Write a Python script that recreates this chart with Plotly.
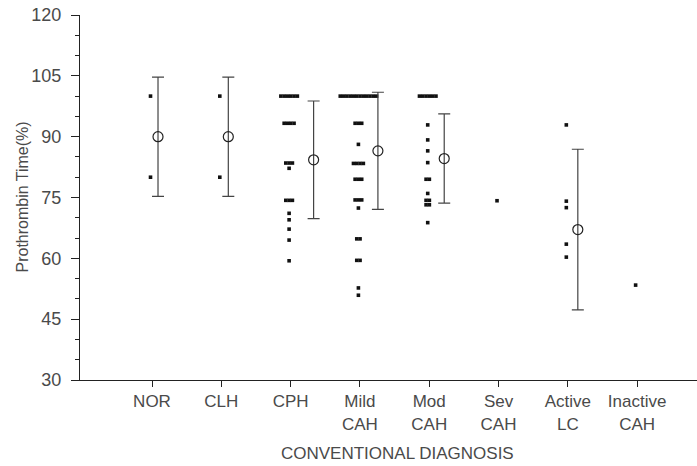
import plotly.graph_objects as go
from collections import Counter

# Diagnostic groups along the x axis
categories = ["NOR", "CLH", "CPH", "Mild<br>CAH", "Mod<br>CAH", "Sev<br>CAH", "Active<br>LC", "Inactive<br>CAH"]

# Individual prothrombin time values (%) per group
nor_vals = [100, 80]
clh_vals = [100, 80]
cph_vals = [100] * 6 + [93.3] * 4 + [83.5] * 3 + [82.2] + [74.3] * 3 + [71.1, 69.5, 67.2, 64.5, 59.4]
mild_vals = ([100] * 12 + [93.3] * 3 + [88.1] + [83.4] * 4 + [79.5] * 3 + [74.4] * 3 + [72.4]
             + [64.8] * 2 + [59.5] * 2 + [52.7, 50.9])
mod_vals = [100] * 6 + [92.9, 89.2, 86.5, 83.6] + [79.5] * 2 + [76.0] + [74.3] * 2 + [73.2] * 2 + [68.8]
sev_vals = [74.2]
active_vals = [92.9, 74.1, 72.5, 63.5, 60.3]
inactive_vals = [53.4]

group_values = [nor_vals, clh_vals, cph_vals, mild_vals, mod_vals, sev_vals, active_vals, inactive_vals]

# Group mean and SD (None where only one case)
means = [90.0, 90.0, 84.3, 86.5, 84.6, None, 67.1, None]
sds = [14.7, 14.7, 14.5, 14.45, 11.0, None, 19.8, None]

# Layout constants (pixels)
PX_PER_CAT = 69.3
DOT_STEP = 3.3
DOT_SHIFT = -1.5
BAR_SHIFT_PX = [6, 7, 23, 18, 15, 0, 10, 0]

INK = "#222222"
TEXT = "#4a4a4a"
FONT = "Liberation Sans, Arial, sans-serif"

fig = go.Figure()

# Individual cases: equal values are spread side by side
dot_x, dot_y = [], []
for i, vals in enumerate(group_values):
    counts = Counter(vals)
    for v, n in counts.items():
        for k in range(n):
            off_px = DOT_SHIFT + (k - (n - 1) / 2) * DOT_STEP
            dot_x.append(i + off_px / PX_PER_CAT)
            dot_y.append(v)

fig.add_trace(go.Scatter(
    x=dot_x, y=dot_y, mode="markers",
    marker=dict(symbol="square", size=3.6, color="#111111", line=dict(width=0)),
    hoverinfo="y", showlegend=False,
))

# Mean +/- SD
bx, by, be = [], [], []
for i, (m, s) in enumerate(zip(means, sds)):
    if m is None:
        continue
    bx.append(i + BAR_SHIFT_PX[i] / PX_PER_CAT)
    by.append(m)
    be.append(s)

fig.add_trace(go.Scatter(
    x=bx, y=by, mode="markers",
    marker=dict(symbol="circle-open", size=10, color=INK, line=dict(width=1.2, color=INK)),
    error_y=dict(type="data", array=be, symmetric=True, thickness=1.2, width=6, color="#444444"),
    showlegend=False,
))

fig.update_layout(
    width=697, height=466,
    margin=dict(l=80, r=0, t=15, b=86),
    paper_bgcolor="white", plot_bgcolor="white",
    font=dict(family=FONT, color=TEXT, size=16),
    xaxis=dict(
        range=[-1.039, 7.864],
        tickmode="array", tickvals=list(range(len(categories))), ticktext=categories,
        showline=True, linecolor=INK, linewidth=1,
        ticks="outside", ticklen=6, tickcolor=INK, tickwidth=1,
        showgrid=False, zeroline=False,
        tickfont=dict(size=17, color=TEXT),
    ),
    yaxis=dict(
        range=[30, 120],
        tickmode="array", tickvals=[30, 45, 60, 75, 90, 105, 120],
        showline=True, linecolor=INK, linewidth=1,
        ticks="outside", ticklen=8, tickcolor=INK, tickwidth=1,
        minor=dict(dtick=5, ticks="outside", ticklen=4, tickcolor=INK, tickwidth=1),
        showgrid=False, zeroline=False,
        tickfont=dict(size=18, color=TEXT),
        ticklabelstandoff=6,
    ),
    annotations=[
        dict(text="Prothrombin Time(%)", xref="paper", yref="paper",
             x=-0.094, y=0.5, xanchor="center", yanchor="middle",
             textangle=-90, showarrow=False, font=dict(size=16, color=TEXT)),
        dict(text="CONVENTIONAL DIAGNOSIS", xref="paper", yref="paper",
             x=0.514, y=-0.2, xanchor="center", yanchor="middle",
             showarrow=False, font=dict(size=17, color=TEXT)),
    ],
)

fig.write_html("out.html")
